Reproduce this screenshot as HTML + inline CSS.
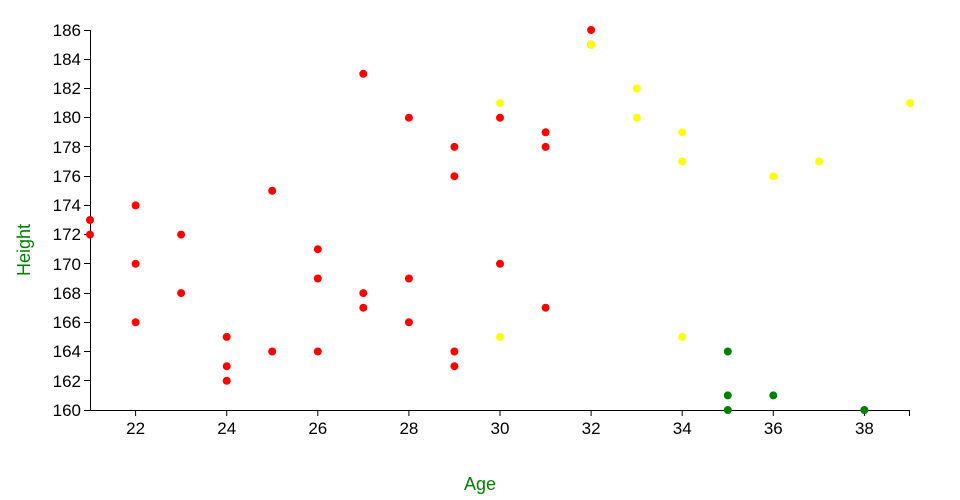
<!DOCTYPE html>
<html><head><style>body{margin:0;background:#fff}svg{display:block;font-family:"Liberation Sans",sans-serif}</style></head><body>
<svg width="960" height="500" xmlns="http://www.w3.org/2000/svg">
<g stroke="#000" stroke-width="1" fill="none">
<line x1="90.5" y1="30" x2="90.5" y2="410"/>
<line x1="90" y1="410.5" x2="910" y2="410.5"/>
<line x1="84" y1="30.5" x2="90" y2="30.5"/><line x1="84" y1="59.5" x2="90" y2="59.5"/><line x1="84" y1="88.5" x2="90" y2="88.5"/><line x1="84" y1="117.5" x2="90" y2="117.5"/><line x1="84" y1="146.5" x2="90" y2="146.5"/><line x1="84" y1="176.5" x2="90" y2="176.5"/><line x1="84" y1="205.5" x2="90" y2="205.5"/><line x1="84" y1="234.5" x2="90" y2="234.5"/><line x1="84" y1="263.5" x2="90" y2="263.5"/><line x1="84" y1="293.5" x2="90" y2="293.5"/><line x1="84" y1="322.5" x2="90" y2="322.5"/><line x1="84" y1="351.5" x2="90" y2="351.5"/><line x1="84" y1="380.5" x2="90" y2="380.5"/><line x1="84" y1="410.5" x2="90" y2="410.5"/>
<line x1="135.6" y1="410" x2="135.6" y2="416"/><line x1="226.7" y1="410" x2="226.7" y2="416"/><line x1="317.8" y1="410" x2="317.8" y2="416"/><line x1="408.9" y1="410" x2="408.9" y2="416"/><line x1="500" y1="410" x2="500" y2="416"/><line x1="591.1" y1="410" x2="591.1" y2="416"/><line x1="682.2" y1="410" x2="682.2" y2="416"/><line x1="773.3" y1="410" x2="773.3" y2="416"/><line x1="864.4" y1="410" x2="864.4" y2="416"/><line x1="909.5" y1="410" x2="909.5" y2="416"/>
</g>
<g font-size="17" fill="#000" text-anchor="end">
<text x="81" y="36">186</text><text x="81" y="65">184</text><text x="81" y="94">182</text><text x="81" y="123">180</text><text x="81" y="153">178</text><text x="81" y="182">176</text><text x="81" y="211">174</text><text x="81" y="240">172</text><text x="81" y="270">170</text><text x="81" y="299">168</text><text x="81" y="328">166</text><text x="81" y="357">164</text><text x="81" y="387">162</text><text x="81" y="416">160</text>
</g>
<g font-size="17" fill="#000" text-anchor="middle">
<text x="135.6" y="434">22</text><text x="226.7" y="434">24</text><text x="317.8" y="434">26</text><text x="408.9" y="434">28</text><text x="500" y="434">30</text><text x="591.1" y="434">32</text><text x="682.2" y="434">34</text><text x="773.3" y="434">36</text><text x="864.4" y="434">38</text>
</g>
<text x="480" y="490" font-size="18" fill="#008000" text-anchor="middle">Age</text>
<text transform="translate(30,250) rotate(-90)" font-size="18" fill="#008000" text-anchor="middle">Height</text>
<g fill="#ff0000">
<circle cx="90" cy="220" r="4"/><circle cx="90" cy="234.6" r="4"/><circle cx="135.6" cy="205.4" r="4"/><circle cx="135.6" cy="263.8" r="4"/><circle cx="135.6" cy="322.3" r="4"/>
<circle cx="181.1" cy="234.6" r="4"/><circle cx="181.1" cy="293.1" r="4"/>
<circle cx="226.7" cy="336.9" r="4"/><circle cx="226.7" cy="366.2" r="4"/><circle cx="226.7" cy="380.8" r="4"/>
<circle cx="272.2" cy="190.8" r="4"/><circle cx="272.2" cy="351.5" r="4"/>
<circle cx="317.8" cy="249.2" r="4"/><circle cx="317.8" cy="278.5" r="4"/><circle cx="317.8" cy="351.5" r="4"/>
<circle cx="363.3" cy="73.8" r="4"/><circle cx="363.3" cy="293.1" r="4"/><circle cx="363.3" cy="307.7" r="4"/>
<circle cx="408.9" cy="117.7" r="4"/><circle cx="408.9" cy="278.5" r="4"/><circle cx="408.9" cy="322.3" r="4"/>
<circle cx="454.4" cy="146.9" r="4"/><circle cx="454.4" cy="176.2" r="4"/><circle cx="454.4" cy="351.5" r="4"/><circle cx="454.4" cy="366.2" r="4"/>
<circle cx="500" cy="117.7" r="4"/><circle cx="500" cy="263.8" r="4"/>
<circle cx="545.6" cy="132.3" r="4"/><circle cx="545.6" cy="146.9" r="4"/><circle cx="545.6" cy="307.7" r="4"/>
<circle cx="591.1" cy="30" r="4"/><circle cx="591.1" cy="44.6" r="4"/>
</g>
<g fill="#ffff00">
<circle cx="500" cy="103.1" r="4"/><circle cx="500" cy="336.9" r="4"/><circle cx="591.1" cy="44.6" r="4"/>
<circle cx="636.7" cy="88.5" r="4"/><circle cx="636.7" cy="117.7" r="4"/>
<circle cx="682.2" cy="132.3" r="4"/><circle cx="682.2" cy="161.5" r="4"/><circle cx="682.2" cy="336.9" r="4"/>
<circle cx="773.3" cy="176.2" r="4"/><circle cx="818.9" cy="161.5" r="4"/><circle cx="910" cy="103.1" r="4"/>
</g>
<g fill="#008000">
<circle cx="727.8" cy="351.5" r="4"/><circle cx="727.8" cy="395.4" r="4"/><circle cx="727.8" cy="410" r="4"/><circle cx="773.3" cy="395.4" r="4"/><circle cx="864.4" cy="410" r="4"/>
</g>
</svg>
</body></html>
